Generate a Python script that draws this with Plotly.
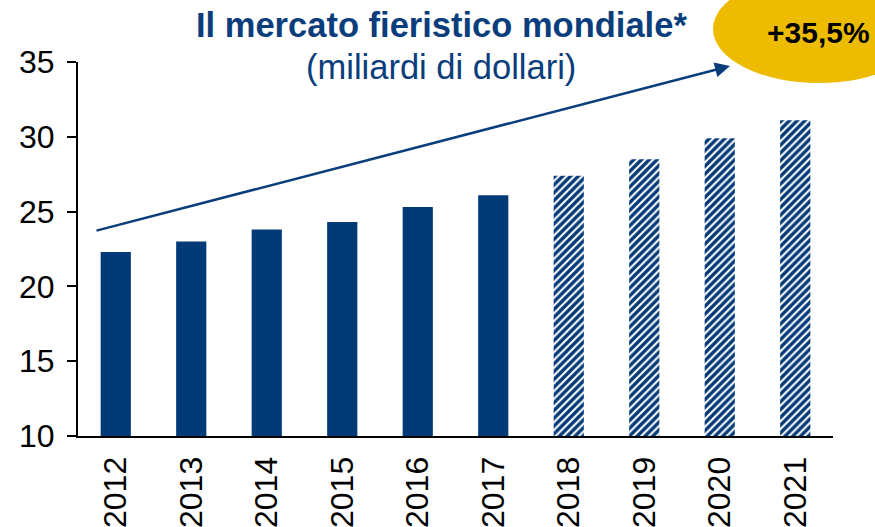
import plotly.graph_objects as go

years = ["2012", "2013", "2014", "2015", "2016", "2017", "2018", "2019", "2020", "2021"]
values = [22.3, 23.0, 23.8, 24.3, 25.3, 26.1, 27.4, 28.5, 29.9, 31.1]
is_forecast = [False] * 6 + [True] * 4
y_ticks = [10, 15, 20, 25, 30, 35]

title_text = "Il mercato fieristico mondiale*"
subtitle_text = "(miliardi di dollari)"
growth_text = "+35,5%"

BLUE = "#023A78"
TITLE_BLUE = "#0A3D7C"
YELLOW = "#EDBC00"
FONT = "Liberation Sans, Arial, sans-serif"

W, H = 875, 527
L, R, T, B = 78, 42, 62, 91
pw, ph = W - L - R, H - T - B

def px(x):
    return (x - L) / pw

def py(y):
    return (H - B - y) / ph

fig = go.Figure()
fig.add_trace(go.Bar(
    x=years,
    y=values,
    width=0.4,
    marker=dict(
        color=BLUE,
        line=dict(width=0),
        pattern=dict(
            shape=["/" if f else "" for f in is_forecast],
            fgcolor=BLUE,
            bgcolor="white",
            fillmode="replace",
            size=5.5,
            solidity=0.62,
        ),
    ),
    showlegend=False,
))

fig.update_layout(
    width=W, height=H,
    margin=dict(l=L, r=R, t=T, b=B, pad=0, autoexpand=False),
    plot_bgcolor="white",
    paper_bgcolor="white",
    font=dict(family=FONT, color="black", size=32),
    bargap=0.6,
)
fig.update_xaxes(
    type="category", automargin=False,
    showline=True, linecolor="black", linewidth=2,
    ticks="", tickangle=-90,
    tickfont=dict(size=32),
    ticklabelstandoff=6,
    showgrid=False,
)
fig.update_yaxes(
    range=[10, 35], automargin=False,
    tickvals=y_ticks,
    showline=True, linecolor="black", linewidth=2,
    ticks="outside", ticklen=9, tickwidth=2, tickcolor="black",
    tickfont=dict(size=32),
    ticklabelstandoff=6,
    showgrid=False, zeroline=False,
)

# Title
fig.add_annotation(text="<b>" + title_text + "</b>", xref="paper", yref="paper",
                   x=px(441), y=py(25), showarrow=False,
                   font=dict(size=34.5, color=TITLE_BLUE, family=FONT),
                   xanchor="center", yanchor="middle")
fig.add_annotation(text=subtitle_text, xref="paper", yref="paper",
                   x=px(441), y=py(67), showarrow=False,
                   font=dict(size=34.5, color=TITLE_BLUE, family=FONT),
                   xanchor="center", yanchor="middle")

# Trend arrow
head_x, head_y = 730, 66
tail_x, tail_y = 95, 231
fig.add_annotation(xref="paper", yref="paper", x=px(head_x), y=py(head_y),
                   ax=tail_x - head_x, ay=tail_y - head_y, axref="pixel", ayref="pixel",
                   text="", showarrow=True, arrowhead=2, arrowsize=1.2,
                   arrowwidth=2.5, arrowcolor=TITLE_BLUE)

# Yellow ellipse with growth
fig.add_shape(type="circle", xref="paper", yref="paper",
              x0=px(713), x1=px(925), y0=py(83), y1=py(-25),
              fillcolor=YELLOW, line=dict(width=0), layer="above")
fig.add_annotation(text="<b>" + growth_text + "</b>", xref="paper", yref="paper",
                   x=px(818), y=py(33), showarrow=False,
                   font=dict(size=30, color="black", family=FONT),
                   xanchor="center", yanchor="middle")

fig.write_html("out.html",
               config={"displayModeBar": False},
               post_script="document.body.style.margin='0';document.body.style.padding='0';document.body.style.overflow='hidden';")
